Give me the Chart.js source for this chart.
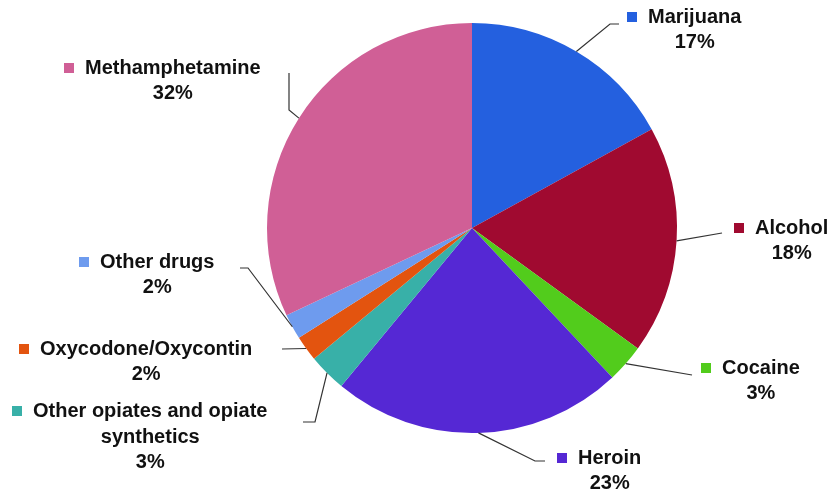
<!DOCTYPE html>
<html>
<head>
<meta charset="utf-8">
<script src="https://cdn.jsdelivr.net/npm/chart.js@4/dist/chart.umd.min.js"></script>
<style>
  html, body { margin: 0; padding: 0; background: #fff; }
  canvas { display: block; }
</style>
</head>
<body>
<canvas id="drugChart" width="835" height="492"></canvas>
<script>
// data (percent of admissions)
var drugLabels = ['Marijuana', 'Alcohol', 'Cocaine', 'Heroin', 'Other opiates and opiate synthetics', 'Oxycodone/Oxycontin', 'Other drugs', 'Methamphetamine'];
var drugShares = [17, 18, 3, 23, 3, 2, 2, 32];
var shareText = ['17%', '18%', '3%', '23%', '3%', '2%', '2%', '32%'];
var sliceColors = ['#2460df', '#a00a30', '#52cc1c', '#5528d4', '#38b0a8', '#e3540f', '#6e9bee', '#d05f96'];

// where each callout sits: text left edge, first line centre, name lines, leader bend points
var callouts = [
     { x: 648, y: 17, lines: ['Marijuana'], bend: [[610, 24], [619, 24]] },
     { x: 755, y: 228, lines: ['Alcohol'], bend: [[722, 233]] },
     { x: 722, y: 368, lines: ['Cocaine'], bend: [[692, 375]] },
     { x: 578, y: 458, lines: ['Heroin'], bend: [[535, 461], [545, 461]] },
     { x: 33, y: 411, lines: ['Other opiates and opiate', 'synthetics'], bend: [[315, 422], [303, 422]] },
     { x: 40, y: 349, lines: ['Oxycodone/Oxycontin'], bend: [[282, 349]] },
     { x: 100, y: 262, lines: ['Other drugs'], bend: [[248, 268], [240, 268]] },
     { x: 85, y: 68, lines: ['Methamphetamine'], bend: [[289, 110], [289, 73]] }
];

var calloutPlugin = {
     id: 'callouts',
     afterDraw: function(chart) {
          var ctx = chart.ctx;
          var arcs = chart.getDatasetMeta(0).data;
          ctx.save();
          arcs.forEach(function(arc, i) {
               var c = callouts[i];
               var p = arc.getProps(['x', 'y', 'startAngle', 'endAngle', 'outerRadius'], true);
               var mid = (p.startAngle + p.endAngle) / 2;
               var ax = p.x + Math.cos(mid) * p.outerRadius;
               var ay = p.y + Math.sin(mid) * p.outerRadius;

               // leader line
               ctx.strokeStyle = '#333';
               ctx.lineWidth = 1.2;
               ctx.beginPath();
               ctx.moveTo(ax, ay);
               c.bend.forEach(function(pt) { ctx.lineTo(pt[0], pt[1]); });
               ctx.stroke();

               // colour square
               ctx.fillStyle = sliceColors[i];
               ctx.fillRect(c.x - 21, c.y - 5, 10, 10);

               // text
               ctx.font = 'bold 20px "Liberation Sans", Arial, sans-serif';
               ctx.fillStyle = '#111';
               ctx.textBaseline = 'middle';
               var w0 = ctx.measureText(c.lines[0]).width;
               var cx = c.x + w0 / 2;
               ctx.textAlign = 'left';
               ctx.fillText(c.lines[0], c.x, c.y);
               ctx.textAlign = 'center';
               for (var k = 1; k < c.lines.length; k++) {
                    ctx.fillText(c.lines[k], cx, c.y + 26 * k);
               }
               ctx.fillText(shareText[i], cx, c.y + 26 * c.lines.length - 1);
          });
          ctx.restore();
     }
};

new Chart('drugChart', {
     type: 'pie',
     data: {
          labels: drugLabels,
          datasets: [
               {
                    data: drugShares,
                    backgroundColor: sliceColors,
                    hoverBackgroundColor: sliceColors,
                    borderWidth: 0
               }
          ]
     },
     options: {
          responsive: false,
          animation: false,
          devicePixelRatio: 1,
          layout: {
               padding: { left: 267, right: 158, top: 23, bottom: 59 }
          },
          plugins: {
               legend: { display: false },
               tooltip: { enabled: false }
          }
     },
     plugins: [calloutPlugin]
});
</script>
</body>
</html>
